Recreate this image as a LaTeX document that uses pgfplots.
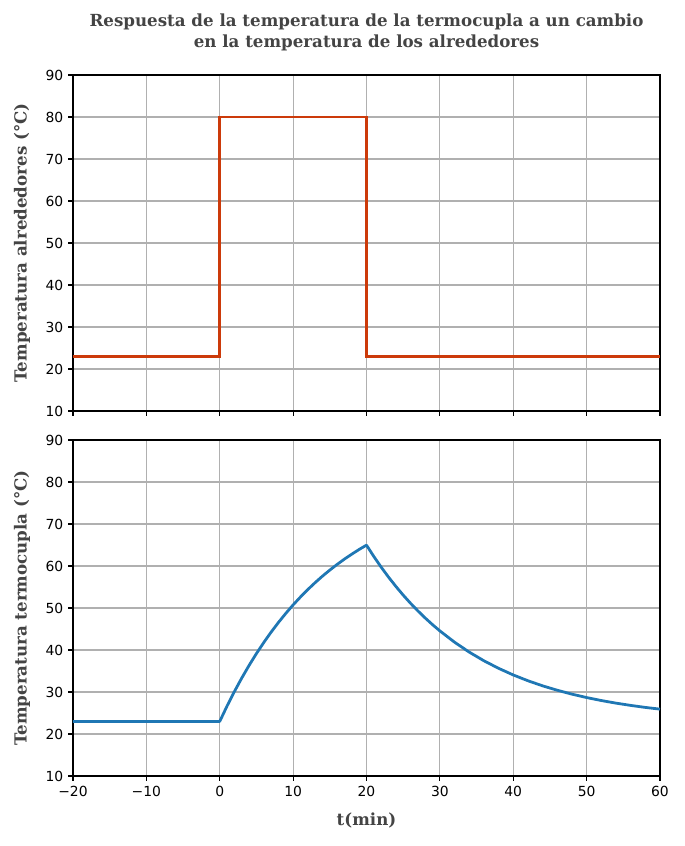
\documentclass[border=0pt]{standalone}
\usepackage{pgfplots}
\pgfplotsset{compat=1.18}
\usepackage{fontspec}
\setmainfont{DejaVu Sans}
\newfontfamily\serifb{DejaVu Serif}
\definecolor{txtgray}{HTML}{444444}
\definecolor{stepred}{HTML}{CC3A0A}
\definecolor{mplblue}{HTML}{1F77B4}
\definecolor{gridgray}{HTML}{B0B0B0}

\pgfplotsset{
  common/.style={
    scale only axis,
    width=422.64pt, height=241.92pt,
    xmin=-20, xmax=60, ymin=10, ymax=90,
    xtick={-20,-10,0,10,20,30,40,50,60},
    ytick={10,20,30,40,50,60,70,80,90},
    yticklabels={10,20,30,40,50,60,70,80,90},
    grid=major,
    major grid style={gridgray, line width=0.8pt},
    axis line style={line width=0.8pt},
    tick style={black, line width=0.8pt},
    tick align=outside,
    major tick length=3.5pt,
    xtick pos=bottom, ytick pos=left,
    ticklabel style={font=\fontsize{10}{12}\selectfont},
    ylabel style={font=\serifb\bfseries\fontsize{12}{14}\selectfont, text=txtgray, at={(axis description cs:-0.0869,0.5)}, anchor=center},
    clip=false,
  }
}

\begin{document}
\begin{tikzpicture}
\useasboundingbox (0,0) rectangle (492.48pt,-609.12pt);
\node[font=\serifb\bfseries\fontsize{12}{15}\selectfont, text=txtgray, align=center] at (263.9pt,-23.4pt) {Respuesta de la temperatura de la termocupla a un cambio\\en la temperatura de los alrededores};

\begin{axis}[common, at={(52.56pt,-54pt)}, anchor=north west,
  xticklabels={},
  ylabel={Temperatura alrededores (°C)}]
\addplot[stepred, line width=2pt, line join=miter] coordinates {
(-20,23) (0,23) (0,80) (20,80) (20,23) (60,23)};
\end{axis}

\begin{axis}[common, at={(52.56pt,-316.8pt)}, anchor=north west,
  xticklabels={−20,−10,0,10,20,30,40,50,60},
  ylabel={Temperatura termocupla (°C)},
  xlabel={t(min)},
  xlabel style={font=\serifb\bfseries\fontsize{12}{14}\selectfont, text=txtgray, at={(axis description cs:0.5,-0.133)}, anchor=center}]
\addplot[mplblue, line width=2pt, line join=round] coordinates {
(-20,23) (0,23) (1,26.68) (2,30.12) (3,33.33) (4,36.34) (5,39.16) (6,41.79) (7,44.26) (8,46.56) (9,48.72) (10,50.74)
(11,52.62) (12,54.39) (13,56.04) (14,57.59) (15,59.03) (16,60.38) (17,61.65) (18,62.83) (19,63.94) (20,64.97)
(21,62.26) (22,59.73) (23,57.36) (24,55.15) (25,53.07) (26,51.13) (27,49.32) (28,47.62) (29,46.03) (30,44.55)
(32,41.86) (34,39.50) (36,37.44) (38,35.64) (40,34.06) (42,32.68) (44,31.47) (46,30.42) (48,29.49) (50,28.68)
(52,27.97) (54,27.35) (56,26.81) (58,26.33) (60,25.92)};
\end{axis}
\end{tikzpicture}
\end{document}
